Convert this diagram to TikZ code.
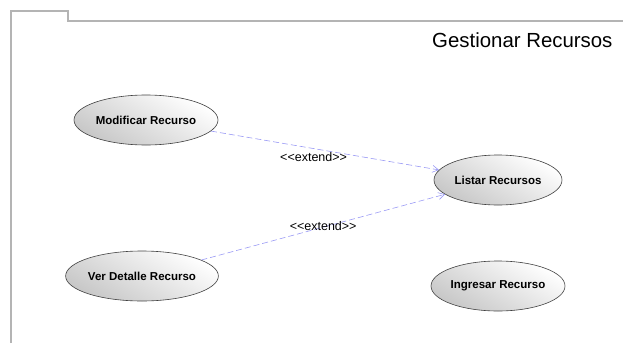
\documentclass[tikz,border=0pt]{standalone}
\usepackage{fontspec}
\setmainfont{Liberation Sans}
\usetikzlibrary{shapes.geometric,arrows.meta}
\definecolor{framegray}{HTML}{B4B4B4}
\definecolor{extblue}{HTML}{9A9AF5}
\newcommand{\ext}{<\kern0pt<\kern0pt extend\kern0pt>\kern0pt>}
\tikzset{
  usecase/.style={ellipse, draw=black!75, line width=0.6pt, minimum width=144pt, minimum height=50pt,
    top color=white, bottom color=black!22, shading angle=-30, font=\bfseries\fontsize{11.5}{13}\selectfont, inner sep=0pt},
  extendline/.style={draw=extblue, line width=0.6pt, dash pattern=on 6pt off 3pt, -{Straight Barb[length=6pt,width=7pt]}},
  extlabel/.style={font=\fontsize{12.5}{14}\selectfont, inner sep=1pt}
}
\begin{document}
\begin{tikzpicture}[x=1pt,y=-1pt]
\useasboundingbox (0,0) rectangle (623,343);
\draw[framegray, line width=2.5pt] (11,343) -- (11,11) -- (68,11) -- (68,21) -- (623,21);
\node[anchor=east, font=\fontsize{20.4}{22}\selectfont] (title) at (616,40) {Gestionar Recursos};
\node[usecase] (mod) at (146,120) {Modificar Recurso};
\node[usecase, minimum width=145pt] (ver) at (142,276) {Ver Detalle Recurso};
\node[usecase, minimum width=128pt] (lis) at (498,180) {Listar Recursos};
\node[usecase, minimum width=134pt] (ing) at (498,286) {Ingresar Recurso};
\draw[extendline] (mod) -- (lis) node[extlabel, pos=0.45, below=3pt] (l1) {\ext};
\draw[extendline] (ver) -- (lis) node[extlabel, pos=0.5, yshift=1pt] (l2) {\ext};
\end{tikzpicture}
\end{document}
